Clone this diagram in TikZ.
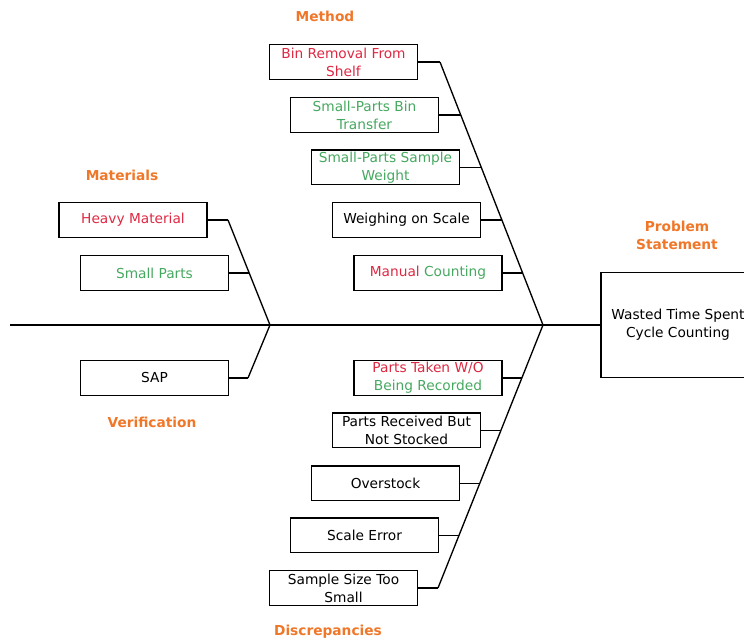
\documentclass[tikz,border=0pt]{standalone}
\usepackage{fontspec}
\setmainfont{DejaVu Sans}
\usepackage{tikz}
\definecolor{causered}{RGB}{222,40,66}
\definecolor{causegreen}{RGB}{70,168,96}
\definecolor{catorange}{RGB}{240,118,40}
\tikzset{
    every node/.style={font=\fontsize{10.3}{13.5}\selectfont}
}
\tikzset{cause/.style={rectangle, draw, line width=1pt, minimum width=111pt, minimum height=26pt, align=center, inner sep=1pt}}
\tikzset{heading/.style={text=catorange, align=center, font=\fontsize{10.3}{13}\selectfont\bfseries}}

\begin{document}
\begin{tikzpicture}[x=0.75pt, y=-0.75pt, line width=1pt]
        \useasboundingbox (0,0) rectangle (744,641);
        % category headings
        \node (hmethod) [heading] at (325, 16) {Method};
        \node (hmaterials) [heading] at (122, 175) {Materials};
        \node (hverification) [heading] at (152, 422) {Verification};
        \node (hdiscrepancies) [heading] at (328, 632) {Discrepancies};
        \node (hproblem) [heading] at (677, 235.5) {Problem\\Statement};
        % causes
        \node (binremoval) [cause, text=causered] at (343.5, 62) {Bin Removal From\\Shelf};
        \node (bintransfer) [cause, text=causegreen] at (364.5, 115) {Small-Parts Bin\\Transfer};
        \node (sampleweight) [cause, text=causegreen] at (385.5, 167.5) {Small-Parts Sample\\Weight};
        \node (weighing) [cause] at (406.5, 220) {Weighing on Scale};
        \node (manual) [cause] at (428, 273) {\textcolor{causered}{Manual} \textcolor{causegreen}{Counting}};
        \node (heavy) [cause, text=causered] at (133, 220) {Heavy Material};
        \node (smallparts) [cause, text=causegreen] at (154.5, 273) {Small Parts};
        \node (sap) [cause] at (154.5, 378) {SAP};
        \node (taken) [cause] at (428, 378) {\textcolor{causered}{Parts Taken W/O}\\\textcolor{causegreen}{Being Recorded}};
        \node (received) [cause] at (406.5, 430.5) {Parts Received But\\Not Stocked};
        \node (overstock) [cause] at (385.5, 483.5) {Overstock};
        \node (scaleerror) [cause] at (364.5, 535.5) {Scale Error};
        \node (samplesize) [cause] at (343.5, 588) {Sample Size Too\\Small};
        \node (problem) [cause, minimum width=115.5pt, minimum height=78.5pt] at (678, 325) {Wasted Time Spent\\Cycle Counting};
        % points on the bones
        \coordinate (tail) at (10, 325);
        \coordinate (jl) at (270, 325);
        \coordinate (jr) at (543, 325);
        \coordinate (m1) at (440, 62);
        \coordinate (m2) at (460.8, 115);
        \coordinate (m3) at (481, 167.5);
        \coordinate (m4) at (501.5, 220);
        \coordinate (m5) at (522, 273);
        \coordinate (d1) at (522, 378);
        \coordinate (d2) at (501, 430.5);
        \coordinate (d3) at (480, 483.5);
        \coordinate (d4) at (459, 535.5);
        \coordinate (d5) at (438, 588);
        \coordinate (a1) at (228, 220);
        \coordinate (a2) at (248.8, 273);
        \coordinate (v1) at (248, 378);
        % spine and bones
        \draw (tail) -- (jl) -- (jr) -- (problem);
        \draw (m1) -- (jr) -- (d5);
        \draw (a1) -- (jl) -- (v1);
        \draw (binremoval) edge (m1);
        \draw (bintransfer) edge (m2);
        \draw (sampleweight) edge (m3);
        \draw (weighing) edge (m4);
        \draw (manual) edge (m5);
        \draw (taken) edge (d1);
        \draw (received) edge (d2);
        \draw (overstock) edge (d3);
        \draw (scaleerror) edge (d4);
        \draw (samplesize) edge (d5);
        \draw (heavy) edge (a1);
        \draw (smallparts) edge (a2);
        \draw (sap) edge (v1);
\end{tikzpicture}
\end{document}
